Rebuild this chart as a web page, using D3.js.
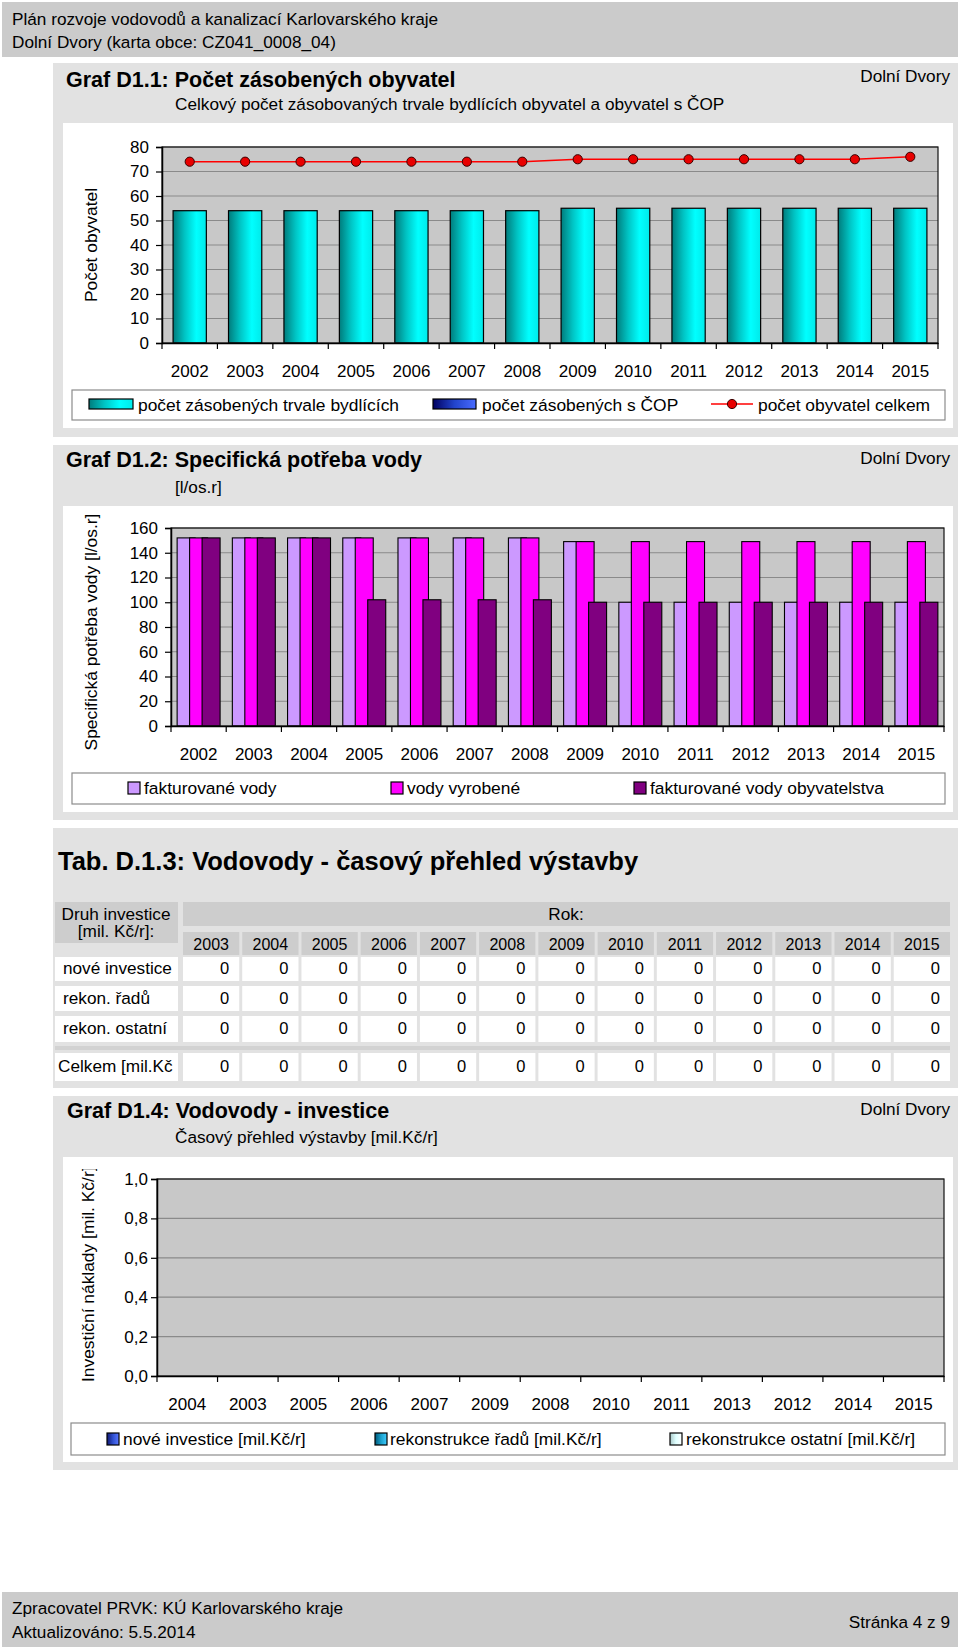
<!DOCTYPE html>
<html><head><meta charset="utf-8">
<script src="https://cdn.jsdelivr.net/npm/d3@7"></script>
<style>
body{margin:0;background:#fff}
svg{display:block}
</style>
</head><body>
<svg id="c" width="960" height="1649"></svg>
<script>
// ---------------- DATA ----------------
const years1 = ["2002","2003","2004","2005","2006","2007","2008","2009","2010","2011","2012","2013","2014","2015"];
const zasobeniTrvale = [54,54,54,54,54,54,54,55,55,55,55,55,55,55];
const zasobeniCOP = [0,0,0,0,0,0,0,0,0,0,0,0,0,0];
const obyvatelCelkem = [74,74,74,74,74,74,74,75,75,75,75,75,75,76];
const ticks1 = [0,10,20,30,40,50,60,70,80];

const years2 = ["2002","2003","2004","2005","2006","2007","2008","2009","2010","2011","2012","2013","2014","2015"];
const fakturovaneVody = [152,152,152,152,152,152,152,149,100,100,100,100,100,100];
const vodyVyrobene = [152,152,152,152,152,152,152,149,149,149,149,149,149,149];
const fakturovaneObyv = [152,152,152,102,102,102,102,100,100,100,100,100,100,100];
const ticks2 = [0,20,40,60,80,100,120,140,160];

const tableYears = ["2003","2004","2005","2006","2007","2008","2009","2010","2011","2012","2013","2014","2015"];
const tabNove = [0,0,0,0,0,0,0,0,0,0,0,0,0];
const tabRekonRadu = [0,0,0,0,0,0,0,0,0,0,0,0,0];
const tabRekonOstatni = [0,0,0,0,0,0,0,0,0,0,0,0,0];
const tabCelkem = [0,0,0,0,0,0,0,0,0,0,0,0,0];
const tableRowLabels = ["nové investice","rekon. řadů","rekon. ostatní"];

const years4 = ["2004","2003","2005","2006","2007","2009","2008","2010","2011","2013","2012","2014","2015"];
const inv4Nove = [0,0,0,0,0,0,0,0,0,0,0,0,0];
const inv4Rady = [0,0,0,0,0,0,0,0,0,0,0,0,0];
const inv4Ostatni = [0,0,0,0,0,0,0,0,0,0,0,0,0];
const ticks4 = [0,0.2,0.4,0.6,0.8,1.0];

// ---------------- HELPERS ----------------
const F = '"Liberation Sans", Arial, Helvetica, sans-serif';
const FS = 17.2, FL = 17.4, FT = 21.5, FTICK = 17;
const svg = d3.select('#c');
const defs = svg.append('defs');
function hgrad(id, stops){
  const g = defs.append('linearGradient').attr('id',id).attr('x1','0').attr('x2','1').attr('y1','0').attr('y2','0');
  stops.forEach(([o,c])=>g.append('stop').attr('offset',o).attr('stop-color',c));
}
hgrad('gCyan',[[0,'#007c7c'],[0.35,'#00c4c4'],[0.7,'#00ffff'],[1,'#00eaea']]);
hgrad('gBlue',[[0,'#000060'],[0.5,'#2244cc'],[1,'#4a6cff']]);
hgrad('gNew',[[0,'#101870'],[0.5,'#3050d0'],[1,'#5a78ff']]);
hgrad('gRad',[[0,'#005878'],[0.5,'#1aa0cc'],[1,'#40ccff']]);
hgrad('gOst',[[0,'#a8c8c8'],[0.5,'#e0ffff'],[1,'#ffffff']]);

function rect(x,y,w,h,fill,stroke,sw){
  const r = svg.append('rect').attr('x',x).attr('y',y).attr('width',w).attr('height',h).attr('fill',fill||'none');
  if(stroke) r.attr('stroke',stroke).attr('stroke-width',sw||1);
  return r;
}
function txt(x,y,s,o){
  o = o||{};
  const t = (o.parent||svg).append('text').attr('x',x).attr('y',y).text(s)
    .attr('font-family',F).attr('font-size',o.size||FS).attr('fill',o.fill||'#000');
  if(o.bold) t.attr('font-weight','bold');
  if(o.anchor) t.attr('text-anchor',o.anchor);
  return t;
}
const PANEL='#e2e2e2', BAND='#cbcbcb', PLOT='#c8c8c8', GRID='#8a8a8a';

function frame(x, y, ticks){
  const g = svg.append('g');
  const [x0,x1] = x.range(); const [yb,yt] = y.range();
  g.append('rect').attr('x',x0).attr('y',yt).attr('width',x1-x0).attr('height',yb-yt).attr('fill',PLOT);
  g.selectAll('line.grid').data(ticks.filter(t=>t>0)).join('line')
    .attr('x1',x0).attr('x2',x1).attr('y1',d=>y(d)).attr('y2',d=>y(d))
    .attr('stroke',GRID).attr('stroke-width',1.2);
  return g;
}
function axes(x, y, ticks, fmt, tickPad){
  const [x0,x1] = x.range(); const [yb,yt] = y.range();
  svg.append('rect').attr('x',x0).attr('y',yt).attr('width',x1-x0).attr('height',yb-yt)
    .attr('fill','none').attr('stroke','#111').attr('stroke-width',1.2);
  const ya = svg.append('g').attr('transform',`translate(${x0},0)`)
    .call(d3.axisLeft(y).tickValues(ticks).tickSize(6).tickPadding(tickPad).tickFormat(fmt));
  ya.select('.domain').attr('stroke','#000').attr('stroke-width',1.5);
  ya.selectAll('.tick line').attr('stroke','#000').attr('stroke-width',1.2);
  ya.selectAll('text').attr('font-family',F).attr('font-size',FTICK).attr('fill','#000');
  const xa = svg.append('g').attr('transform',`translate(0,${yb})`)
    .call(d3.axisBottom(x).tickSize(0).tickPadding(22));
  xa.select('.domain').attr('stroke','#000').attr('stroke-width',1.5);
  xa.selectAll('text').attr('font-family',F).attr('font-size',FTICK).attr('fill','#000');
  const bounds = x.domain().map(c=>x(c)).concat([x1]);
  svg.append('g').selectAll('line').data(bounds).join('line')
    .attr('x1',d=>d).attr('x2',d=>d).attr('y1',yb).attr('y2',yb+6)
    .attr('stroke','#000').attr('stroke-width',1.2);
}
function legendBox(x0,x1,y0,y1){ rect(x0,y0,x1-x0,y1-y0,'#fff','#8c8c8c',1.2); }

// ---------------- HEADER ----------------
rect(2,2,956,55,BAND);
txt(12,25,'Plán rozvoje vodovodů a kanalizací Karlovarského kraje');
txt(12,48,'Dolní Dvory (karta obce: CZ041_0008_04)');

// ---------------- PANEL 1 ----------------
rect(53,63,905,374,PANEL);
txt(66,87,'Graf D1.1: Počet zásobených obyvatel',{size:FT,bold:true});
txt(950,82,'Dolní Dvory',{anchor:'end'});
txt(175,110,'Celkový počet zásobovaných trvale bydlících obyvatel a obyvatel s ČOP');
rect(63,123,890,305,'#fff');
{
  const x = d3.scaleBand().domain(years1).range([162,938]);
  const y = d3.scaleLinear().domain([0,80]).range([343,147]);
  frame(x,y,ticks1);
  const bw = x.bandwidth();
  svg.append('g').selectAll('rect').data(years1.map((c,i)=>({c,v:zasobeniTrvale[i]}))).join('rect')
    .attr('x',d=>x(d.c)+bw*0.2).attr('width',bw*0.6)
    .attr('y',d=>y(d.v)).attr('height',d=>y(0)-y(d.v))
    .attr('fill','url(#gCyan)').attr('stroke','#000').attr('stroke-width',1.2);
  svg.append('g').selectAll('rect').data(years1.map((c,i)=>({c,b:zasobeniTrvale[i],v:zasobeniCOP[i]})).filter(d=>d.v>0)).join('rect')
    .attr('x',d=>x(d.c)+bw*0.2).attr('width',bw*0.6)
    .attr('y',d=>y(d.b+d.v)).attr('height',d=>y(d.b)-y(d.b+d.v))
    .attr('fill','url(#gBlue)').attr('stroke','#000');
  axes(x,y,ticks1,d3.format('d'),7);
  const line = d3.line().x((d,i)=>x(years1[i])+bw/2).y(d=>y(d));
  svg.append('path').attr('d',line(obyvatelCelkem)).attr('fill','none').attr('stroke','#ff0000').attr('stroke-width',1.6);
  svg.append('g').selectAll('circle').data(obyvatelCelkem).join('circle')
    .attr('cx',(d,i)=>x(years1[i])+bw/2).attr('cy',d=>y(d)).attr('r',4.6)
    .attr('fill','#e80000').attr('stroke','#3a0000').attr('stroke-width',1);
  txt(0,0,'Počet obyvatel',{anchor:'middle',size:FL}).attr('transform','translate(97,245) rotate(-90)');
  legendBox(72,945,390,420);
  rect(89,399,44,10,'url(#gCyan)','#000',1.2);
  txt(138,411,'počet zásobených trvale bydlících',{size:FL});
  rect(433,399,43,10,'url(#gBlue)','#000',1.2);
  txt(482,411,'počet zásobených s ČOP',{size:FL});
  svg.append('line').attr('x1',711).attr('x2',753).attr('y1',404).attr('y2',404).attr('stroke','#ff0000').attr('stroke-width',1.6);
  svg.append('circle').attr('cx',732).attr('cy',404).attr('r',4.6).attr('fill','#e80000').attr('stroke','#3a0000');
  txt(758,411,'počet obyvatel celkem',{size:FL});
}

// ---------------- PANEL 2 ----------------
rect(53,445,905,375,PANEL);
txt(66,467,'Graf D1.2: Specifická potřeba vody',{size:FT,bold:true});
txt(950,464,'Dolní Dvory',{anchor:'end'});
txt(175,493,'[l/os.r]');
rect(63,506,890,306,'#fff');
{
  const x = d3.scaleBand().domain(years2).range([171,944]);
  const y = d3.scaleLinear().domain([0,160]).range([726,528]);
  frame(x,y,ticks2);
  const bw = x.bandwidth();
  const w = bw*0.326, d = bw*0.226, off = (bw-(2*d+w))/2;
  const series = [
    {vals:fakturovaneVody, fill:'#cc99ff'},
    {vals:vodyVyrobene, fill:'#ff00ff'},
    {vals:fakturovaneObyv, fill:'#800080'}
  ];
  years2.forEach((c,i)=>{
    series.forEach((s,j)=>{
      svg.append('rect').attr('x',x(c)+off+j*d).attr('width',w)
        .attr('y',y(s.vals[i])).attr('height',y(0)-y(s.vals[i]))
        .attr('fill',s.fill).attr('stroke','#000').attr('stroke-width',1.1);
    });
  });
  axes(x,y,ticks2,d3.format('d'),7);
  txt(0,0,'Specifická potřeba vody [l/os.r]',{anchor:'middle',size:FL}).attr('transform','translate(97,632) rotate(-90)');
  legendBox(72,945,773,804);
  rect(128,782,12,12,'#cc99ff','#000',1.2);
  txt(144,794,'fakturované vody',{size:FL});
  rect(391,782,12,12,'#ff00ff','#000',1.2);
  txt(407,794,'vody vyrobené',{size:FL});
  rect(634,782,12,12,'#800080','#000',1.2);
  txt(650,794,'fakturované vody obyvatelstva',{size:FL});
}

// ---------------- PANEL 3 (TABLE) ----------------
rect(53,828,905,260,PANEL);
txt(58,870,'Tab. D.1.3: Vodovody - časový přehled výstavby',{size:25.5,bold:true});
{
  const HDR='#cdcdcd';
  const cx = d3.scaleBand().domain(tableYears).range([183,950]).paddingInner(0.05).paddingOuter(0);
  rect(55,902,123,41,HDR);
  txt(116,920,'Druh investice',{anchor:'middle'});
  txt(116,937,'[mil. Kč/r]:',{anchor:'middle'});
  rect(183,902,767,24,HDR);
  txt(566,920,'Rok:',{anchor:'middle'});
  svg.append('g').selectAll('rect').data(tableYears).join('rect')
    .attr('x',c=>cx(c)).attr('width',cx.bandwidth()).attr('y',932).attr('height',23).attr('fill',HDR);
  svg.append('g').selectAll('text').data(tableYears).join('text')
    .attr('x',c=>cx(c)+cx.bandwidth()/2).attr('y',950).attr('text-anchor','middle')
    .attr('font-family',F).attr('font-size',16).text(c=>c);
  const rows = [
    {label:tableRowLabels[0], vals:tabNove, y0:957, h:24, base:974, lx:63},
    {label:tableRowLabels[1], vals:tabRekonRadu, y0:986, h:25, base:1004, lx:63},
    {label:tableRowLabels[2], vals:tabRekonOstatni, y0:1016, h:26, base:1034, lx:63},
    {label:'Celkem [mil.Kč', vals:tabCelkem, y0:1053, h:28, base:1072, lx:58}
  ];
  rect(55,1046,895,4,'#d2d2d2');
  rows.forEach(r=>{
    rect(55,r.y0,123,r.h,'#fff');
    txt(r.lx,r.base,r.label);
    svg.append('g').selectAll('rect').data(tableYears).join('rect')
      .attr('x',c=>cx(c)).attr('width',cx.bandwidth()).attr('y',r.y0).attr('height',r.h).attr('fill','#fff');
    svg.append('g').selectAll('text').data(r.vals).join('text')
      .attr('x',(v,i)=>cx(tableYears[i])+cx.bandwidth()-10).attr('y',r.base).attr('text-anchor','end')
      .attr('font-family',F).attr('font-size',16.5).text(v=>d3.format('d')(v));
  });
}

// ---------------- PANEL 4 ----------------
rect(53,1096,905,374,PANEL);
txt(67,1118,'Graf D1.4: Vodovody - investice',{size:FT,bold:true});
txt(950,1115,'Dolní Dvory',{anchor:'end'});
txt(175,1143,'Časový přehled výstavby [mil.Kč/r]');
rect(63,1157,890,305,'#fff');
{
  const cz = d3.formatLocale({decimal:',',thousands:' ',grouping:[3],currency:['',' Kč']});
  const x = d3.scaleBand().domain(years4).range([157,944]);
  const y = d3.scaleLinear().domain([0,1]).range([1376,1179]);
  frame(x,y,ticks4);
  const bw = x.bandwidth();
  const stack = years4.map((c,i)=>({c,a:inv4Nove[i],b:inv4Rady[i],o:inv4Ostatni[i]}));
  const segs = [];
  stack.forEach(s=>{
    let base=0;
    [['a','url(#gNew)'],['b','url(#gRad)'],['o','url(#gOst)']].forEach(([k,f])=>{
      if(s[k]>0) segs.push({c:s.c,y0:base,y1:base+s[k],f});
      base+=s[k];
    });
  });
  svg.append('g').selectAll('rect').data(segs).join('rect')
    .attr('x',d=>x(d.c)+bw*0.2).attr('width',bw*0.6)
    .attr('y',d=>y(d.y1)).attr('height',d=>y(d.y0)-y(d.y1)).attr('fill',d=>d.f).attr('stroke','#000');
  axes(x,y,ticks4,cz.format('.1f'),3);
  defs.append('clipPath').attr('id','clipY4').append('rect').attr('x',60).attr('y',1169).attr('width',60).attr('height',260);
  const cg = svg.append('g').attr('clip-path','url(#clipY4)');
  txt(0,0,'Investiční náklady [mil. Kč/r]',{anchor:'start',size:FL,parent:cg})
    .attr('transform','translate(94,1382) rotate(-90)');
  legendBox(71,945,1423,1455);
  rect(107,1433,12,12,'url(#gNew)','#000',1.2);
  txt(123,1445,'nové investice [mil.Kč/r]',{size:FL});
  rect(375,1433,12,12,'url(#gRad)','#000',1.2);
  txt(390,1445,'rekonstrukce řadů [mil.Kč/r]',{size:FL});
  rect(670,1433,12,12,'url(#gOst)','#000',1.2);
  txt(686,1445,'rekonstrukce ostatní [mil.Kč/r]',{size:FL});
}

// ---------------- FOOTER ----------------
rect(2,1592,956,55,BAND);
txt(12,1614,'Zpracovatel PRVK: KÚ Karlovarského kraje');
txt(12,1638,'Aktualizováno: 5.5.2014');
txt(950,1628,'Stránka 4 z 9',{anchor:'end'});
</script>
</body></html>
